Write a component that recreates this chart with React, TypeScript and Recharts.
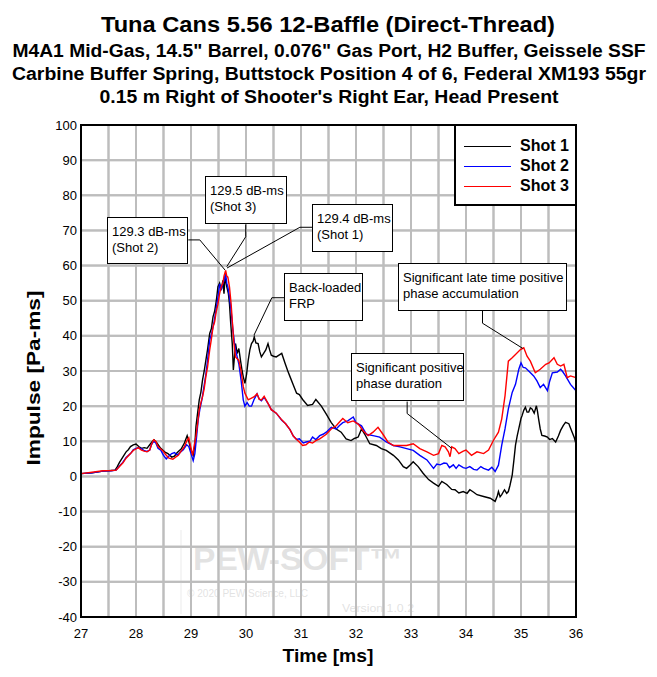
import { LineChart, Line, XAxis, YAxis, ReferenceLine, CartesianGrid } from 'recharts'

const FONT = '"Liberation Sans", Arial, sans-serif'

const X_TICKS = [27, 27.5, 28, 28.5, 29, 29.5, 30, 30.5, 31, 31.5, 32, 32.5, 33, 33.5, 34, 34.5, 35, 35.5, 36]
const Y_TICKS = [-40, -30, -20, -10, 0, 10, 20, 30, 40, 50, 60, 70, 80, 90, 100]
const X_DOMAIN: [number, number] = [27, 36]
const Y_DOMAIN: [number, number] = [-40, 100]

const TITLE = 'Tuna Cans 5.56 12-Baffle (Direct-Thread)'
const SUBTITLE = [
  'M4A1 Mid-Gas, 14.5" Barrel, 0.076" Gas Port, H2 Buffer, Geissele SSF',
  'Carbine Buffer Spring, Buttstock Position 4 of 6, Federal XM193 55gr',
  "0.15 m Right of Shooter's Right Ear, Head Present",
]
const SUBTITLE_WIDTH = [633, 634, 459]

// [time ms, impulse Pa-ms]
const SHOT1: [number, number][] = [
  [27.0, 0.8], [27.2, 1.0], [27.4, 1.5], [27.55, 1.7], [27.62, 1.8], [27.66, 2.8], [27.7, 4.0], [27.76, 5.5],
  [27.82, 7.0], [27.86, 7.6], [27.9, 8.5], [27.95, 9.0], [28.0, 9.2], [28.05, 8.5], [28.1, 8.0], [28.15, 8.2],
  [28.2, 8.0], [28.25, 9.0], [28.3, 10.0], [28.33, 10.4], [28.38, 9.5], [28.45, 8.0], [28.52, 7.0], [28.58, 6.5],
  [28.65, 5.5], [28.7, 5.8], [28.75, 6.8], [28.82, 7.8], [28.88, 9.5], [28.93, 11.6], [28.96, 10.0], [29.0, 7.5],
  [29.04, 6.0], [29.07, 9.0], [29.09, 14.2], [29.12, 18.0], [29.15, 21.8], [29.18, 24.0], [29.21, 27.5], [29.24, 30.0],
  [29.27, 33.0], [29.3, 36.0], [29.34, 40.7], [29.37, 42.0], [29.4, 45.4], [29.43, 47.0], [29.46, 50.0], [29.49, 54.0],
  [29.52, 55.0], [29.55, 53.0], [29.58, 55.8], [29.6, 52.0], [29.62, 57.0], [29.65, 54.0], [29.68, 52.0], [29.7, 49.0],
  [29.72, 44.0], [29.75, 37.8], [29.77, 30.3], [29.79, 34.0], [29.81, 37.8], [29.84, 35.0], [29.87, 36.4], [29.9, 33.0],
  [29.93, 30.0], [29.95, 28.4], [29.98, 26.5], [30.01, 29.0], [30.04, 33.0], [30.07, 36.0], [30.1, 37.8], [30.13, 38.5],
  [30.15, 39.7], [30.18, 38.0], [30.22, 37.8], [30.25, 35.5], [30.28, 34.0], [30.32, 35.0], [30.36, 36.0], [30.4, 37.8],
  [30.43, 36.0], [30.46, 34.5], [30.5, 34.2], [30.55, 34.0], [30.6, 34.5], [30.65, 35.0], [30.71, 32.2], [30.76, 30.0],
  [30.8, 28.4], [30.86, 26.0], [30.92, 23.7], [30.97, 23.3], [31.03, 21.9], [31.12, 20.2], [31.21, 20.5], [31.27, 21.9],
  [31.37, 20.0], [31.46, 17.7], [31.55, 15.3], [31.64, 13.5], [31.73, 12.6], [31.82, 10.7], [31.91, 10.2], [31.97, 10.8],
  [32.04, 11.2], [32.1, 13.5], [32.16, 12.0], [32.25, 9.3], [32.37, 8.8], [32.46, 7.9], [32.55, 7.4], [32.68, 6.0],
  [32.77, 4.7], [32.86, 2.8], [32.92, 2.3], [32.98, 3.2], [33.04, 4.2], [33.13, 2.8], [33.22, 0.9], [33.32, -0.9],
  [33.41, -1.9], [33.5, -2.8], [33.56, -1.4], [33.65, -2.3], [33.74, -3.7], [33.8, -3.8], [33.87, -4.7], [33.95, -4.3],
  [34.02, -4.8], [34.07, -3.8], [34.14, -4.5], [34.2, -5.2], [34.32, -5.7], [34.44, -6.2], [34.53, -7.1], [34.57, -5.5],
  [34.59, -4.3], [34.62, -5.8], [34.65, -5.2], [34.7, -3.8], [34.74, -4.8], [34.77, -4.3], [34.8, -2.5], [34.84, 0.4],
  [34.87, 4.5], [34.9, 8.9], [34.93, 11.5], [34.96, 13.6], [35.0, 16.5], [35.02, 17.3], [35.05, 18.8], [35.08, 19.7],
  [35.11, 18.3], [35.14, 18.3], [35.17, 19.5], [35.2, 19.2], [35.24, 18.0], [35.28, 20.1], [35.3, 18.5], [35.32, 16.4],
  [35.35, 13.5], [35.38, 11.7], [35.43, 11.5], [35.48, 11.2], [35.52, 10.5], [35.57, 10.8], [35.63, 9.8], [35.68, 11.5],
  [35.72, 13.1], [35.77, 14.5], [35.81, 15.4], [35.87, 15.0], [35.93, 12.6], [35.97, 11.0], [36.0, 9.3],
]

const SHOT2: [number, number][] = [
  [27.0, 0.8], [27.2, 1.0], [27.4, 1.5], [27.55, 1.6], [27.64, 1.8], [27.7, 3.0], [27.76, 4.0], [27.82, 5.4],
  [27.9, 6.5], [27.95, 7.6], [28.0, 8.0], [28.04, 8.2], [28.1, 7.9], [28.15, 7.3], [28.2, 7.1], [28.25, 7.5],
  [28.28, 9.0], [28.32, 10.0], [28.36, 9.5], [28.4, 8.0], [28.45, 7.5], [28.5, 6.0], [28.55, 5.0], [28.6, 5.8],
  [28.65, 6.5], [28.7, 6.8], [28.75, 6.0], [28.8, 6.8], [28.86, 7.6], [28.92, 9.0], [28.96, 8.5], [29.0, 6.5],
  [29.04, 4.5], [29.07, 6.5], [29.1, 11.0], [29.13, 16.0], [29.16, 19.0], [29.2, 22.0], [29.24, 26.0], [29.27, 29.0],
  [29.3, 33.0], [29.34, 38.8], [29.38, 41.0], [29.42, 44.0], [29.46, 48.0], [29.5, 52.0], [29.52, 54.8], [29.55, 53.0],
  [29.58, 55.0], [29.61, 56.0], [29.63, 57.6], [29.65, 55.0], [29.67, 53.9], [29.7, 51.0], [29.73, 47.0], [29.76, 42.0],
  [29.79, 38.0], [29.81, 36.0], [29.84, 34.0], [29.87, 32.0], [29.91, 27.5], [29.95, 21.8], [29.98, 20.0], [30.02, 21.0],
  [30.06, 20.0], [30.1, 20.0], [30.15, 22.0], [30.2, 23.5], [30.24, 22.0], [30.28, 21.5], [30.33, 22.5], [30.4, 20.8],
  [30.46, 19.0], [30.55, 18.0], [30.65, 16.0], [30.72, 15.0], [30.8, 13.3], [30.86, 11.5], [30.92, 10.5], [30.97, 10.7],
  [31.04, 9.5], [31.09, 9.8], [31.16, 10.0], [31.21, 11.2], [31.27, 10.5], [31.34, 11.6], [31.4, 12.0], [31.46, 12.6],
  [31.55, 14.0], [31.64, 13.5], [31.7, 14.5], [31.76, 15.3], [31.85, 15.8], [31.95, 16.9], [32.0, 15.3], [32.1, 14.4],
  [32.19, 12.0], [32.31, 11.6], [32.43, 11.2], [32.55, 9.8], [32.68, 8.8], [32.8, 8.4], [32.92, 7.9], [33.04, 7.4],
  [33.16, 6.0], [33.29, 4.7], [33.41, 2.3], [33.47, 3.5], [33.53, 3.3], [33.6, 3.8], [33.65, 3.7], [33.7, 2.5],
  [33.77, 3.3], [33.82, 2.3], [33.87, 3.3], [33.95, 2.5], [34.0, 2.3], [34.07, 2.8], [34.14, 2.0], [34.2, 1.8],
  [34.27, 2.8], [34.32, 2.3], [34.41, 1.8], [34.47, 2.6], [34.53, 1.4], [34.59, 3.2], [34.65, 8.9], [34.71, 13.6],
  [34.77, 19.2], [34.84, 23.9], [34.9, 26.2], [34.96, 30.5], [35.0, 32.3], [35.04, 31.0], [35.08, 30.9], [35.14, 30.0],
  [35.23, 28.6], [35.29, 27.2], [35.35, 25.3], [35.41, 26.2], [35.48, 24.4], [35.52, 27.0], [35.57, 29.5], [35.66, 29.7],
  [35.72, 30.5], [35.75, 30.0], [35.81, 28.6], [35.9, 26.2], [36.0, 24.4],
]

const SHOT3: [number, number][] = [
  [27.0, 0.8], [27.2, 1.2], [27.4, 1.6], [27.55, 1.7], [27.64, 1.8], [27.7, 2.8], [27.76, 3.8], [27.82, 5.2],
  [27.9, 6.5], [27.95, 7.4], [28.0, 7.8], [28.04, 8.2], [28.1, 7.5], [28.15, 7.2], [28.2, 7.0], [28.25, 7.5],
  [28.28, 9.0], [28.32, 10.4], [28.36, 10.0], [28.4, 8.5], [28.45, 7.8], [28.5, 7.1], [28.55, 6.0], [28.6, 5.2],
  [28.67, 4.9], [28.72, 5.5], [28.77, 6.0], [28.82, 7.2], [28.88, 8.5], [28.92, 10.0], [28.96, 11.0], [29.0, 8.0],
  [29.03, 6.0], [29.06, 9.0], [29.09, 11.4], [29.12, 15.0], [29.15, 19.0], [29.18, 21.0], [29.21, 22.7], [29.24, 25.0],
  [29.27, 28.4], [29.3, 31.0], [29.34, 36.0], [29.37, 39.0], [29.4, 42.5], [29.43, 44.0], [29.46, 47.0], [29.49, 49.0],
  [29.52, 52.0], [29.55, 54.0], [29.58, 55.0], [29.6, 57.0], [29.63, 58.6], [29.65, 57.0], [29.67, 56.7], [29.7, 53.9],
  [29.73, 49.0], [29.75, 44.4], [29.78, 38.0], [29.81, 34.0], [29.84, 33.5], [29.87, 33.0], [29.91, 30.0], [29.95, 25.6],
  [29.98, 23.7], [30.04, 21.8], [30.1, 22.3], [30.15, 22.7], [30.2, 23.5], [30.24, 22.0], [30.28, 21.8], [30.33, 22.8],
  [30.4, 20.8], [30.46, 19.0], [30.55, 18.0], [30.65, 16.1], [30.72, 15.0], [30.8, 13.3], [30.86, 11.5], [30.92, 10.5],
  [30.97, 9.8], [31.03, 8.8], [31.09, 9.0], [31.15, 9.8], [31.21, 9.5], [31.27, 10.2], [31.34, 10.7], [31.46, 12.0],
  [31.55, 13.5], [31.64, 14.4], [31.7, 15.5], [31.76, 16.5], [31.85, 15.3], [31.95, 15.8], [32.04, 14.9], [32.13, 13.0],
  [32.22, 11.6], [32.31, 12.6], [32.4, 14.0], [32.49, 12.0], [32.58, 9.8], [32.68, 8.8], [32.8, 8.8], [32.92, 8.8],
  [33.04, 9.3], [33.16, 7.9], [33.29, 7.0], [33.41, 6.0], [33.5, 6.5], [33.56, 8.8], [33.62, 8.4], [33.68, 7.0],
  [33.71, 5.6], [33.74, 8.4], [33.8, 7.9], [33.87, 6.5], [33.95, 7.2], [34.0, 7.5], [34.1, 6.0], [34.2, 7.0],
  [34.32, 6.5], [34.41, 7.5], [34.5, 10.3], [34.59, 12.6], [34.65, 16.4], [34.71, 23.0], [34.77, 32.8], [34.84, 33.8],
  [34.9, 34.7], [34.99, 36.1], [35.05, 36.6], [35.11, 34.2], [35.17, 32.8], [35.26, 29.5], [35.35, 30.5], [35.45, 31.9],
  [35.51, 32.3], [35.6, 33.8], [35.66, 31.9], [35.72, 31.4], [35.78, 31.9], [35.84, 28.1], [35.9, 28.6], [36.0, 28.1],
]

const SERIES = [
  { name: 'Shot 1', color: '#000000', points: SHOT1 },
  { name: 'Shot 2', color: '#0000ff', points: SHOT2 },
  { name: 'Shot 3', color: '#ff0000', points: SHOT3 },
]

// callout boxes (page px) and their leader lines (data coords)
const CALLOUTS = [
  { lines: ['129.3 dB-ms', '(Shot 2)'], box: [107, 217, 81, 47], leader: [[28.95, 67.3], [29.16, 67.3], [29.62, 58.7]] },
  { lines: ['129.5 dB-ms', '(Shot 3)'], box: [205, 176, 82, 48], leader: [[29.995, 71.7], [29.995, 68.2], [29.65, 59.7]] },
  { lines: ['129.4 dB-ms', '(Shot 1)'], box: [312, 204, 81, 48], leader: [[31.2, 70.9], [30.98, 70.9], [29.655, 59.3]] },
  { lines: ['Back-loaded', 'FRP'], box: [284, 273, 79, 48], leader: [[30.7, 50.85], [30.47, 50.85], [30.145, 40.2]] },
  { lines: ['Significant late time positive', 'phase accumulation'], box: [398, 263, 169, 48], leader: [[34.3, 47.2], [34.3, 43.6], [35.03, 36.45]] },
  { lines: ['Significant positive', 'phase duration'], box: [351, 353, 113, 48], leader: [[32.93, 21.3], [32.93, 17.9], [33.74, 8.0]] },
]

// plot area of the chart (matches the LineChart margins + axis sizes)
const PLOT = { left: 81, top: 125, width: 495, height: 492 }
const gx = (v: number) => PLOT.left + ((v - X_DOMAIN[0]) / (X_DOMAIN[1] - X_DOMAIN[0])) * PLOT.width
const gy = (v: number) => PLOT.top + ((Y_DOMAIN[1] - v) / (Y_DOMAIN[1] - Y_DOMAIN[0])) * PLOT.height

const toRows = (pts: [number, number][]) => pts.map(([t, v]) => ({ t, v }))

export default function App() {
  return (
    <div style={{ position: 'absolute', left: 0, top: 0, width: 657, height: 677, background: '#fff', fontFamily: FONT }}>
      {/* grid (filled 2px bars) sits behind the transparent chart svg */}
      <svg width={657} height={677} style={{ position: 'absolute', left: 0, top: 0 }}>
        <g fill="#bdbdbd">
          {X_TICKS.map((v) => (
            <rect key={`vx${v}`} x={gx(v) - 1} y={PLOT.top} width={2} height={PLOT.height} />
          ))}
          {Y_TICKS.map((v) => (
            <rect key={`hy${v}`} x={PLOT.left} y={gy(v) - 1} width={PLOT.width} height={2} />
          ))}
        </g>
        <g fill="#d6d6d6" fillOpacity={0.7} fontFamily={FONT}>
          <rect x={180.5} y={530} width={1} height={84} fill="#e4e4e4" />
          <text x={193} y={570} fontSize={31} fontWeight="bold" textLength={210} lengthAdjust="spacingAndGlyphs">PEW-SOFT™</text>
          <text x={187} y={597} fontSize={10} textLength={121} lengthAdjust="spacingAndGlyphs">© 2020 PEW Science, LLC</text>
          <text x={342} y={612} fontSize={11} textLength={72} lengthAdjust="spacingAndGlyphs">Version 1.0.2</text>
        </g>
      </svg>

      <div style={{ position: 'absolute', left: 0, top: 0 }}>
        <LineChart width={657} height={677} margin={{ top: 125, right: 81, bottom: 30, left: 21 }}>
          <CartesianGrid stroke="#bdbdbd" strokeWidth={2} />
          <XAxis
            type="number"
            dataKey="t"
            domain={X_DOMAIN}
            ticks={X_TICKS}
            interval={0}
            height={30}
            axisLine={false}
            tickLine={false}
            tickSize={0}
            tickMargin={12}
            tick={{ fontSize: 13, fill: '#000', fontFamily: FONT }}
            tickFormatter={(v: number) => (Number.isInteger(v) ? String(v) : '')}
          />
          <YAxis
            type="number"
            domain={Y_DOMAIN}
            ticks={Y_TICKS}
            interval={0}
            width={60}
            axisLine={false}
            tickLine={false}
            tickSize={0}
            tickMargin={4}
            tick={{ fontSize: 13, fill: '#000', fontFamily: FONT }}
          />
          {SERIES.map((s) => (
            <Line
              key={s.name}
              data={toRows(s.points)}
              dataKey="v"
              type="linear"
              stroke={s.color}
              strokeWidth={1.4}
              dot={false}
              activeDot={false}
              isAnimationActive={false}
            />
          ))}
          {CALLOUTS.flatMap((c, i) =>
            c.leader.slice(1).map((p, j) => (
              <ReferenceLine
                key={`${i}-${j}`}
                segment={[{ x: c.leader[j][0], y: c.leader[j][1] }, { x: p[0], y: p[1] }]}
                stroke="#000"
                strokeWidth={1}
              />
            ))
          )}
        </LineChart>
      </div>

      {/* frame, titles, axis labels */}
      <svg width={657} height={677} style={{ position: 'absolute', left: 0, top: 0, pointerEvents: 'none' }}>
        <rect x={PLOT.left} y={PLOT.top} width={PLOT.width} height={PLOT.height} fill="none" stroke="#000" strokeWidth={2} />
        <text x={328} y={32} textAnchor="middle" fontSize={22} fontWeight="bold" fontFamily={FONT} textLength={454} lengthAdjust="spacingAndGlyphs">{TITLE}</text>
        {SUBTITLE.map((s, i) => (
          <text key={i} x={329} y={57 + i * 23} textAnchor="middle" fontSize={18} fontWeight="bold" fontFamily={FONT} textLength={SUBTITLE_WIDTH[i]} lengthAdjust="spacingAndGlyphs">{s}</text>
        ))}
        <text x={328} y={662} textAnchor="middle" fontSize={19} fontWeight="bold" fontFamily={FONT} textLength={91} lengthAdjust="spacingAndGlyphs">Time [ms]</text>
        <text transform="translate(40,378) rotate(-90)" textAnchor="middle" fontSize={19} fontWeight="bold" fontFamily={FONT} textLength={175} lengthAdjust="spacingAndGlyphs">Impulse [Pa-ms]</text>
      </svg>

      {/* callout boxes */}
      {CALLOUTS.map((c, i) => (
        <div
          key={i}
          style={{
            position: 'absolute', left: c.box[0], top: c.box[1], width: c.box[2], height: c.box[3],
            boxSizing: 'border-box', border: '1px solid #000', background: '#fff',
            padding: '6px 0 0 4px', fontSize: 13, lineHeight: '16px', color: '#000', whiteSpace: 'nowrap',
          }}
        >
          {c.lines.map((l, k) => <div key={k}>{l}</div>)}
        </div>
      ))}

      {/* legend */}
      <div
        style={{
          position: 'absolute', left: 454, top: 124, width: 123, height: 82, boxSizing: 'border-box',
          border: '2px solid #000', background: '#fff',
        }}
      >
        {SERIES.map((s, i) => (
          <div key={s.name} style={{ position: 'absolute', left: 8, top: 10 + i * 20, height: 20, display: 'flex', alignItems: 'center' }}>
            <div style={{ width: 47, height: 0, borderTop: `1px solid ${s.color}` }} />
            <span style={{ marginLeft: 9, fontSize: 16, fontWeight: 'bold', color: '#000' }}>{s.name}</span>
          </div>
        ))}
      </div>
    </div>
  )
}
